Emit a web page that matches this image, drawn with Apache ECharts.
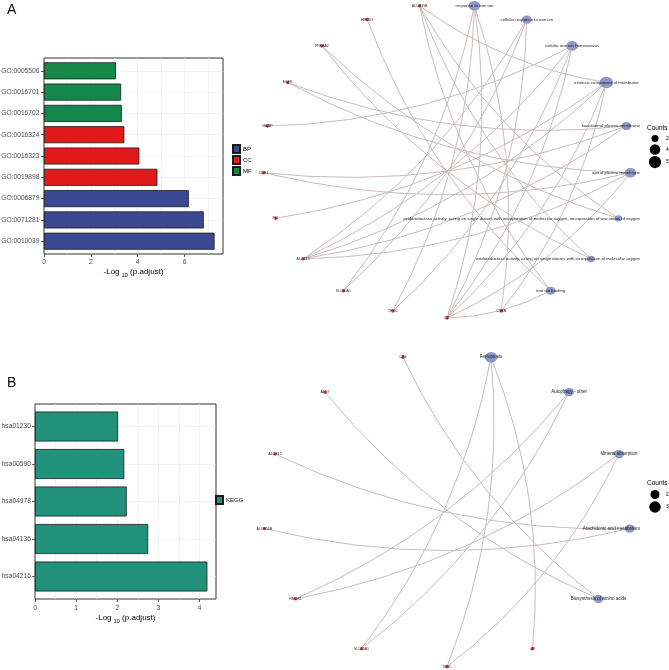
<!DOCTYPE html>
<html><head><meta charset="utf-8">
<script src="https://cdn.jsdelivr.net/npm/echarts@6/dist/echarts.min.js"></script>
<style>html,body{margin:0;padding:0;background:#fff}#c{width:669px;height:670px}</style>
</head><body><div id="c"></div>
<script>
// ---------- data ----------
const goIds = ['GO:0010039','GO:0071281','GO:0006879','GO:0019898','GO:0016323','GO:0016324','GO:0016702','GO:0016701','GO:0005506'];
const goOntology = ['BP','BP','BP','CC','CC','CC','MF','MF','MF'];
const goLogP = [7.28,6.82,6.18,4.84,4.07,3.43,3.32,3.29,3.07];
const goXMax = 7.64;
const goTicks = [0,2,4,6];

const keggIds = ['hsa04216','hsa04136','hsa04978','hsa00590','hsa01230'];
const keggLogP = [4.19,2.75,2.23,2.17,2.02];
const keggXMax = 4.40;
const keggTicks = [0,1,2,3,4];

const goTerms = ['response to iron ion','cellular response to iron ion','cellular iron ion homeostasis','extrinsic component of membrane','basolateral plasma membrane','apical plasma membrane','oxidoreductase activity, acting on single donors with incorporation of molecular oxygen, incorporation of two atoms of oxygen','oxidoreductase activity, acting on single donors with incorporation of molecular oxygen','iron ion binding'];
const goTermCounts = [4,3,4,5,3,4,2,2,3];
const goGenes = ['CYBB','CP','TFRC','SLC40A1','ALOX15','FTL','CDH1','HAMP','EGFR','PRKAA2','HMOX1','ALOX15B'];
const goTermGenes = [
  ['CYBB','CP','TFRC','SLC40A1'],
  ['CP','SLC40A1','ALOX15'],
  ['CP','ALOX15','HAMP','TFRC'],
  ['ALOX15','FTL','ALOX15B','CP','CYBB'],
  ['CDH1','ALOX15','EGFR'],
  ['EGFR','CP','ALOX15','CDH1'],
  ['ALOX15B','PRKAA2'],
  ['ALOX15B','PRKAA2'],
  ['HMOX1','ALOX15B','CP']
];
const goCountLegend = [2,4,5];

const keggTerms = ['Ferroptosis','Autophagy - other','Mineral absorption','Arachidonic acid metabolism','Biosynthesis of amino acids'];
const keggTermCounts = [3,2,2,2,2];
const keggGenes = ['CP','TFRC','SLC40A1','HMOX1','ALOX15B','ALOX15','ATG7','CBS'];
const keggTermGenes = [
  ['TFRC','SLC40A1','CP'],
  ['HMOX1','SLC40A1'],
  ['HMOX1','TFRC'],
  ['ALOX15B','ALOX15'],
  ['CBS','ATG7']
];
const keggCountLegend = [2,3];

// ---------- styles ----------
const FONT = '"Liberation Sans", Arial, Helvetica, sans-serif';
const COLORS = {BP:'#3B4992', CC:'#E31A1C', MF:'#15894A', KEGG:'#20917B'};
const TERM_COLOR = '#8E95C9';
const GENE_COLOR = '#D03A3A';
const EDGE_COLOR = '#C9BCBC';
const LABEL_RIGHT = 640;

const sizeA = c => 3.5 + 1.75 * c;
const sizeB = c => 4 + 2.5 * c;

function circLayout(n) {
  const out = [];
  for (let i = 0; i < n; i++) {
    const a = (90 - 180 / n - i * 360 / n) * Math.PI / 180;
    out.push([Math.cos(a), Math.sin(a)]);
  }
  return out;
}

function buildNetwork(terms, counts, genes, termGenes, sizeFn, termFont, geneFont) {
  const pos = circLayout(terms.length + genes.length);
  const nodes = [];
  terms.forEach((t, i) => {
    const d = sizeFn(counts[i]);
    nodes.push({
      name: t, value: pos[i], symbol: 'circle', symbolSize: [d * 1.1, d * 0.92],
      itemStyle: {color: TERM_COLOR},
      label: {show: true, position: 'inside', fontSize: termFont, color: '#1a1a1a', fontFamily: FONT}
    });
  });
  genes.forEach((g, j) => {
    nodes.push({
      name: g, value: pos[terms.length + j], symbol: 'circle', symbolSize: 3.4,
      itemStyle: {color: GENE_COLOR},
      label: {show: true, position: 'inside', fontSize: geneFont, color: '#222', fontFamily: FONT}
    });
  });
  const links = [];
  termGenes.forEach((gs, i) => gs.forEach(g => links.push({source: terms[i], target: g})));
  return {nodes, links};
}

const netA = buildNetwork(goTerms, goTermCounts, goGenes, goTermGenes, sizeA, 4.3, 3.5);
const netB = buildNetwork(keggTerms, keggTermCounts, keggGenes, keggTermGenes, sizeB, 4.5, 3.5);

function keepInside(params) {
  const r = params.labelRect;
  const over = r.x + r.width - LABEL_RIGHT;
  return over > 0 ? {dx: -over} : {};
}

const tickLabel = {fontSize: 6.7, color: '#4D4D4D', fontFamily: FONT};
const axisName = {
  fontFamily: FONT, color: '#000',
  rich: {
    n: {fontSize: 8, lineHeight: 10, verticalAlign: 'top', color: '#000', fontFamily: FONT},
    s: {fontSize: 5.5, lineHeight: 5.5, verticalAlign: 'bottom', color: '#000', fontFamily: FONT}
  }
};
const gridLine = {show: true, showMinLine: false, showMaxLine: false, lineStyle: {color: '#EBEBEB', width: 0.6}};

const unitA = 196 / 9.2, unitB = 195 / 5.2;
const ob = {outerBoundsMode: 'none', containLabel: false};

const option = {
  animation: false,
  backgroundColor: '#fff',
  textStyle: {fontFamily: FONT},
  grid: [
    {...ob, left: 44, top: 58, width: 179, height: 196, show: true, borderColor: '#333', borderWidth: 1, backgroundColor: 'transparent'},
    {...ob, left: 44, top: 58 + 0.1 * unitA, width: 179, height: 9 * unitA},
    {...ob, left: 35, top: 404, width: 181, height: 195, show: true, borderColor: '#333', borderWidth: 1, backgroundColor: 'transparent'},
    {...ob, left: 35, top: 404 + 0.1 * unitB, width: 181, height: 5 * unitB},
    {...ob, left: 263, top: 4, width: 368, height: 314},
    {...ob, left: 263, top: 352.7, width: 368, height: 314}
  ],
  xAxis: [
    {gridIndex: 0, type: 'value', min: 0, max: goXMax, interval: 2,
     axisLine: {show: false}, axisTick: {show: true, length: 3, lineStyle: {color: '#333', width: 0.8}},
     axisLabel: {...tickLabel, margin: 5, showMaxLabel: false, formatter: v => goTicks.includes(v) ? String(v) : ''},
     splitLine: {show: false},
     name: '{n|-Log }{s|10}{n| (p.adjust)}', nameLocation: 'middle', nameGap: 14, nameTextStyle: axisName},
    {gridIndex: 0, type: 'value', min: 0, max: goXMax, interval: 1,
     axisLine: {show: false}, axisTick: {show: false}, axisLabel: {show: false}, splitLine: gridLine},
    {gridIndex: 1, type: 'value', min: 0, max: goXMax, show: false},
    {gridIndex: 2, type: 'value', min: 0, max: keggXMax, interval: 1,
     axisLine: {show: false}, axisTick: {show: true, length: 3, lineStyle: {color: '#333', width: 0.8}},
     axisLabel: {...tickLabel, margin: 6, showMaxLabel: false, formatter: v => keggTicks.includes(v) ? String(v) : ''},
     splitLine: {show: false},
     name: '{n|-Log }{s|10}{n| (p.adjust)}', nameLocation: 'middle', nameGap: 15, nameTextStyle: axisName},
    {gridIndex: 2, type: 'value', min: 0, max: keggXMax, interval: 0.5,
     axisLine: {show: false}, axisTick: {show: false}, axisLabel: {show: false}, splitLine: gridLine},
    {gridIndex: 3, type: 'value', min: 0, max: keggXMax, show: false},
    {gridIndex: 4, type: 'value', min: -1, max: 1, show: false},
    {gridIndex: 5, type: 'value', min: -1, max: 1, show: false}
  ],
  yAxis: [
    {gridIndex: 0, type: 'value', min: 0, max: 1, show: false},
    {gridIndex: 1, type: 'category', data: goIds,
     axisLine: {show: false}, axisTick: {show: true, length: 3, alignWithLabel: true, lineStyle: {color: '#333', width: 0.8}},
     axisLabel: {...tickLabel, margin: 4.5},
     splitLine: {show: true, alignWithLabel: true, lineStyle: {color: '#EBEBEB', width: 0.6}}},
    {gridIndex: 2, type: 'value', min: 0, max: 1, show: false},
    {gridIndex: 3, type: 'category', data: keggIds,
     axisLine: {show: false}, axisTick: {show: true, length: 3, alignWithLabel: true, lineStyle: {color: '#333', width: 0.8}},
     axisLabel: {...tickLabel, margin: 4},
     splitLine: {show: true, alignWithLabel: true, lineStyle: {color: '#EBEBEB', width: 0.6}}},
    {gridIndex: 4, type: 'value', min: -1, max: 1, show: false},
    {gridIndex: 5, type: 'value', min: -1, max: 1, show: false}
  ],
  legend: [
    {data: ['BP','CC','MF'], orient: 'vertical', left: 227, top: 139, itemWidth: 7, itemHeight: 8, itemGap: 1,
     icon: 'rect', textStyle: {fontSize: 6, color: '#000', fontFamily: FONT, padding: [0,0,0,-2]}, selectedMode: false},
    {data: ['KEGG'], orient: 'vertical', left: 210, top: 490, itemWidth: 7, itemHeight: 8,
     icon: 'rect', textStyle: {fontSize: 6, color: '#000', fontFamily: FONT, padding: [0,0,0,-2]}, selectedMode: false}
  ],
  series: [
    ...['BP','CC','MF'].map(o => ({
      name: o, type: 'bar', xAxisIndex: 2, yAxisIndex: 1, stack: 'go', barWidth: '80%',
      data: goLogP.map((v, i) => goOntology[i] === o ? v : '-'),
      itemStyle: {color: COLORS[o], borderColor: '#1a1a1a', borderWidth: 0.8},
      silent: true
    })),
    {name: 'KEGG', type: 'bar', xAxisIndex: 5, yAxisIndex: 3, barWidth: '80%',
     data: keggLogP, itemStyle: {color: COLORS.KEGG, borderColor: '#1a1a1a', borderWidth: 0.8}, silent: true},
    {name: 'netA', type: 'graph', coordinateSystem: 'cartesian2d', xAxisIndex: 6, yAxisIndex: 4,
     layout: 'none', silent: true, data: netA.nodes, links: netA.links,
     lineStyle: {color: EDGE_COLOR, width: 1, curveness: 0.12, opacity: 1},
     labelLayout: keepInside, emphasis: {disabled: true}},
    {name: 'netB', type: 'graph', coordinateSystem: 'cartesian2d', xAxisIndex: 7, yAxisIndex: 5,
     layout: 'none', silent: true, data: netB.nodes, links: netB.links,
     lineStyle: {color: EDGE_COLOR, width: 1, curveness: 0.12, opacity: 1},
     labelLayout: keepInside, emphasis: {disabled: true}}
  ],
  graphic: []
};

// panel letters and size legends
const g = option.graphic;
g.push({type: 'text', left: 7, top: 3, style: {text: 'A', fontSize: 14, fontFamily: FONT, fill: '#000'}});
g.push({type: 'text', left: 7, top: 376, style: {text: 'B', fontSize: 14, fontFamily: FONT, fill: '#000'}});
function sizeLegend(x, yTitle, ys, counts, fn) {
  g.push({type: 'text', x: x - 8, y: yTitle, style: {text: 'Counts', fontSize: 6.5, fontFamily: FONT, fill: '#000', verticalAlign: 'middle'}});
  counts.forEach((c, i) => {
    g.push({type: 'circle', shape: {cx: x, cy: ys[i], r: fn(c) / 2}, style: {fill: '#000'}});
    g.push({type: 'text', x: x + 11, y: ys[i], style: {text: String(c), fontSize: 5, fontFamily: FONT, fill: '#000', verticalAlign: 'middle'}});
  });
}
sizeLegend(655, 128, [138.5, 149.5, 162], goCountLegend, sizeA);
sizeLegend(655, 483, [494.5, 507], keggCountLegend, sizeB);

const chart = echarts.init(document.getElementById('c'), null, {renderer: 'canvas', width: 669, height: 670});
chart.setOption(option);
</script>
</body></html>
